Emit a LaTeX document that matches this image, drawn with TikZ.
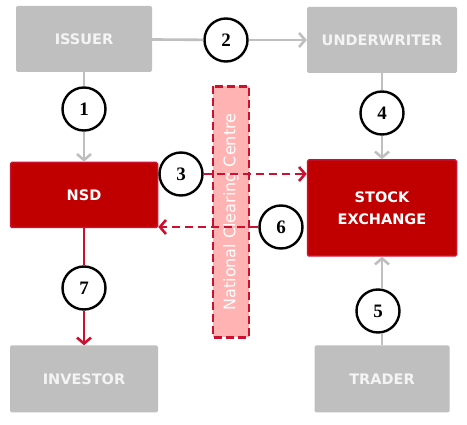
\documentclass[tikz,border=0pt]{standalone}
\usepackage{fontspec}
\setmainfont{DejaVu Sans}
\newfontfamily\numfont{Liberation Serif}
\usepackage{tikz}
\usetikzlibrary{arrows.meta,positioning}
\usepackage{xcolor}
\definecolor{boxgray}{HTML}{BFBFBF}
\definecolor{boxred}{HTML}{C00000}
\definecolor{linered}{HTML}{CC1030}
\definecolor{nccpink}{HTML}{FFB3B3}
\definecolor{offwhite}{HTML}{F4F4F4}

\begin{document}
\begin{tikzpicture}[x=1pt,y=-1pt,
  graybox/.style={rectangle,fill=boxgray,rounded corners=1.5pt,
    minimum height=66pt,text=offwhite,
    font=\bfseries\fontsize{14.5}{17}\selectfont},
  redbox/.style={rectangle,fill=boxred,draw=linered,line width=1.5pt,
    rounded corners=1.5pt,text=white,align=center,
    font=\bfseries\fontsize{14.5}{22}\selectfont},
  stepnum/.style={circle,draw=black,line width=2.4pt,fill=white,
    minimum size=43pt,inner sep=0pt,
    font=\numfont\bfseries\fontsize{19}{19}\selectfont},
  grayline/.style={draw=boxgray,line width=2.6pt},
  grayarrow/.style={grayline,-{Straight Barb[length=6pt,width=14pt,line width=2.6pt]}},
  redline/.style={draw=linered,line width=2.6pt},
  redarrow/.style={redline,-{Straight Barb[length=6pt,width=14pt,line width=2.6pt]}},
  redflow/.style={redarrow,dashed,dash pattern=on 8pt off 5pt}]
  \useasboundingbox (0,0) rectangle (467,425);
  % centro de compensacion
  \node[rectangle,fill=nccpink,draw=linered,line width=2.6pt,
        dash pattern=on 8pt off 4pt,rotate=90,
        minimum width=251pt,minimum height=36pt,text=white,
        font=\fontsize{16}{16}\selectfont]
        (ncc) at (231,212) {National Clearing Centre};
  % bloques
  \node[graybox,minimum width=136pt] (issuer) at (84,39) {ISSUER};
  \node[graybox,minimum width=150pt] (underwriter) at (382,40) {UNDERWRITER};
  \node[redbox,minimum width=147pt,minimum height=65pt] (nsd) at (84,195) {NSD};
  \node[redbox,minimum width=149pt,minimum height=96pt] (stockex) at (382,208) {STOCK\\EXCHANGE};
  \node[graybox,minimum width=148pt,minimum height=67pt] (investor) at (84,379) {INVESTOR};
  \node[graybox,minimum width=135pt,minimum height=67pt] (trader) at (382,379) {TRADER};
  % pasos
  \node[stepnum] (num1) at (84,109) {1};
  \node[stepnum] (num2) at (226,40) {2};
  \node[stepnum] (num3) at (181,174) {3};
  \node[stepnum] (num4) at (382,113) {4};
  \node[stepnum] (num5) at (378,311) {5};
  \node[stepnum] (num6) at (281,227) {6};
  \node[stepnum] (num7) at (84,288) {7};
  % flujos grises
  \draw[grayline] (issuer) -- (num1);
  \draw[grayarrow] (num1) -- (nsd);
  \draw[grayline] (issuer) -- (num2);
  \draw[grayarrow] (num2) -- (underwriter);
  \draw[grayline] (underwriter) -- (num4);
  \draw[grayarrow] (num4) -- (stockex);
  \draw[grayline] (trader.north) -- (trader.north |- num5.south);
  \draw[grayarrow] (trader.north |- num5.north) -- (stockex.south);
  % flujos rojos
  \draw[redflow] (num3.east) -- (num3.east -| stockex.west);
  \draw[redflow] (num6.west) -- (num6.west -| nsd.east);
  \draw[redline] (nsd) -- (num7);
  \draw[redarrow] (num7) -- (investor);
\end{tikzpicture}
\end{document}
